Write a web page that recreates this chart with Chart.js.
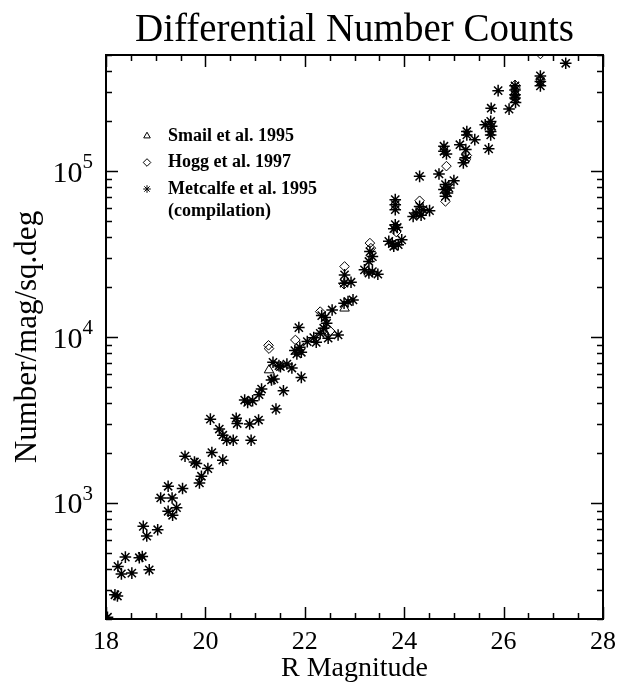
<!DOCTYPE html>
<html>
<head>
<meta charset="utf-8">
<title>Differential Number Counts</title>
<script src="https://cdn.jsdelivr.net/npm/chart.js@4.4.1/dist/chart.umd.min.js"></script>
<style>
  html, body { margin: 0; padding: 0; background: #fff; }
  #wrap { width: 637px; height: 690px; }
</style>
</head>
<body>
<div id="wrap"><canvas id="chart" width="637" height="690"></canvas></div>
<script>
// Values: R magnitude and counts per mag per sq. deg.
const smailMag = [21.28, 22.40, 22.80, 26.23, 26.23];
const smailN   = [6320, 10700, 14890, 294000, 281000];

const hoggMag = [21.27, 21.28, 21.81, 22.31, 22.51, 22.80, 22.79, 23.31, 23.33, 23.84,
                 24.31, 24.85, 24.83, 25.26, 25.24, 26.23, 26.24, 26.74, 26.74];
const hoggN   = [8910, 8510, 9600, 14220, 10860, 26600, 20800, 36800, 34300, 42900,
                 66200, 107000, 65600, 124000, 117000, 330000, 316000, 507000, 357000];

const metcalfeMag = [
  18.03, 18.18, 18.23, 18.24, 18.31, 18.39, 18.52, 18.67, 18.73, 18.75,
  18.82, 18.87, 19.04, 19.10, 19.25, 19.25, 19.33, 19.34, 19.42, 19.54,
  19.59, 19.78, 19.82, 19.88, 19.92, 20.05, 20.13, 20.35,
  20.10, 20.28, 20.35, 20.43, 20.56, 20.62, 20.64, 20.79, 20.85, 20.89,
  20.92, 20.95, 21.07, 21.08, 21.13, 21.33, 21.38, 21.36, 21.42, 21.48,
  21.51, 21.57, 21.64, 21.74, 21.93, 21.80, 21.90, 21.84, 21.93, 22.23,
  21.88, 22.05, 22.18, 22.31, 22.38, 22.44, 22.47, 22.67, 22.55, 22.34,
  22.41, 22.79, 22.87, 22.97, 22.80, 22.93, 22.79, 23.31, 23.36, 23.29,
  23.20, 23.29, 23.36, 23.47, 23.69, 23.79, 23.88, 23.95, 23.76,
  23.82, 23.86, 23.79, 23.82, 23.82, 23.82, 24.31, 24.31, 24.38, 24.51,
  24.24, 24.18, 24.34, 24.70, 24.85, 25.00, 24.83, 24.90, 24.80, 24.87,
  24.83, 24.80, 24.80,
  25.12, 25.24, 25.23, 25.19, 25.26, 25.26, 25.42, 25.63, 25.74, 25.76,
  25.74, 25.74, 25.70, 25.75, 25.89, 26.11, 26.23, 26.23, 26.23, 26.23,
  26.24, 26.74, 26.74, 26.74, 27.25
];
const metcalfeN = [
  205, 280, 275, 415, 374, 472, 378, 468, 476, 723,
  632, 396, 690, 1072, 1261, 891, 1072, 843, 937, 1222,
  1914, 1766, 1727, 1321, 1449, 1611, 2014, 1811,
  3200, 2790, 2560, 2390, 2390, 3240, 3010, 4170, 4040, 2990,
  2390, 4130, 3160, 4490, 4860, 5510, 5590, 7040, 3680, 6720,
  6620, 4740, 6870, 6500, 5710, 8280, 8670, 7910, 8090, 9290,
  11400, 9380, 9910, 10520, 11290, 12100, 9830, 10290, 14550, 13460,
  13090, 15960, 16330, 16730, 23670, 21380, 21080, 32700, 30500, 28500,
  25400, 24300, 24800, 23900, 37700, 35200, 36000, 38500, 36500,
  47500, 45700, 44900, 67200, 62700, 58500, 92900, 61200, 58500, 57700,
  55800, 53300, 54100, 96000, 126800, 87500, 82800, 79100, 77300, 73800,
  70500, 141000, 131500,
  144000, 134600, 120000, 112000, 173000, 165000, 154500, 190000, 199000, 186000,
  173000, 165000, 136000, 239000, 305000, 236000, 326000, 308000, 288000, 275000,
  259000, 374000, 346000, 326000, 445700
];

const xTicks = [18, 20, 22, 24, 26, 28];
const yTicks = [1e3, 1e4, 1e5];
const yTickExp = ['3', '4', '5'];

const FONT = "'Liberation Serif', 'DejaVu Serif', serif";

function toPoints(xs, ys) {
  return xs.map((x, i) => ({ x: x, y: ys[i] }));
}

// Inward tick marks on all four sides, the box frame and the 10^n labels.
const frameTicks = {
  id: 'frameTicks',
  afterDatasetsDraw(chart) {
    const { ctx, chartArea: a, scales: { x, y } } = chart;
    ctx.save();
    ctx.strokeStyle = '#000';
    ctx.lineWidth = 1.5;
    ctx.beginPath();
    for (let v = x.min; v <= x.max + 1e-9; v += 0.5) {
      const px = Math.round(x.getPixelForValue(v)) + 0.5;
      const len = xTicks.includes(Math.round(v * 10) / 10) ? 12 : 6;
      ctx.moveTo(px, a.bottom); ctx.lineTo(px, a.bottom - len);
      ctx.moveTo(px, a.top); ctx.lineTo(px, a.top + len);
    }
    for (let d = 100; d <= 1e6; d *= 10) {
      for (let k = 1; k <= 9; k++) {
        const v = k * d;
        if (v < y.min || v > y.max) continue;
        const py = Math.round(y.getPixelForValue(v)) + 0.5;
        const len = k === 1 ? 12 : 6;
        ctx.moveTo(a.left, py); ctx.lineTo(a.left + len, py);
        ctx.moveTo(a.right, py); ctx.lineTo(a.right - len, py);
      }
    }
    ctx.stroke();
    ctx.lineWidth = 2;
    ctx.strokeRect(a.left, a.top, a.right - a.left, a.bottom - a.top);

    // y labels as 10 with a raised exponent
    ctx.fillStyle = '#000';
    ctx.textBaseline = 'alphabetic';
    ctx.textAlign = 'left';
    yTicks.forEach((v, i) => {
      const py = y.getPixelForValue(v);
      ctx.font = '21px ' + FONT;
      const ew = ctx.measureText(yTickExp[i]).width;
      ctx.font = '30px ' + FONT;
      const bw = ctx.measureText('10').width;
      const right = a.left - 13;
      ctx.fillText('10', right - ew - bw, py + 10.5);
      ctx.font = '21px ' + FONT;
      ctx.fillText(yTickExp[i], right - ew, py - 3);
    });
    ctx.restore();
  }
};

// Legend drawn inside the plot box, top left.
const insideLegend = {
  id: 'insideLegend',
  afterDraw(chart) {
    const { ctx, chartArea: a } = chart;
    const rows = [
      { style: 'triangle', text: ['Smail et al. 1995'] },
      { style: 'rectRot', text: ['Hogg et al. 1997'] },
      { style: 'star', text: ['Metcalfe et al. 1995', '(compilation)'] }
    ];
    const sx = a.left + 41, tx = a.left + 62;
    let yy = a.top + 81;
    ctx.save();
    ctx.strokeStyle = '#000';
    ctx.font = 'bold 18px ' + FONT;
    ctx.textBaseline = 'middle';
    rows.forEach(r => {
      ctx.fillStyle = 'rgba(0,0,0,0)';
      Chart.helpers.drawPoint(ctx, {
        pointStyle: r.style, radius: 3.8, rotation: 0, borderWidth: 1
      }, sx, yy);
      ctx.fillStyle = '#000';
      r.text.forEach((t, i) => ctx.fillText(t, tx, yy + i * 22));
      yy += 26.5;
    });
    ctx.restore();
  }
};

const common = { showLine: false, borderColor: '#000', backgroundColor: 'rgba(0,0,0,0)' };

new Chart(document.getElementById('chart'), {
  type: 'scatter',
  data: {
    datasets: [
      { ...common, label: 'Smail et al. 1995', data: toPoints(smailMag, smailN),
        pointStyle: 'triangle', pointRadius: 5.5, pointBorderWidth: 1 },
      { ...common, label: 'Hogg et al. 1997', data: toPoints(hoggMag, hoggN),
        pointStyle: 'rectRot', pointRadius: 4.8, pointBorderWidth: 1 },
      { ...common, label: 'Metcalfe et al. 1995 (compilation)', data: toPoints(metcalfeMag, metcalfeN),
        pointStyle: 'star', pointRadius: 5.8, pointBorderWidth: 1.5 }
    ]
  },
  options: {
    responsive: false,
    animation: false,
    layout: { padding: { left: 0, right: 34, top: 0, bottom: 0 } },
    plugins: {
      legend: { display: false },
      tooltip: { enabled: false },
      title: {
        display: true,
        fullSize: false,
        text: 'Differential Number Counts',
        color: '#000',
        font: { family: FONT, size: 39, weight: 'normal' },
        padding: { top: 7.6, bottom: 0.6 }
      }
    },
    scales: {
      x: {
        type: 'linear',
        min: 18, max: 28,
        afterFit: s => { s.height = 71; },
        afterBuildTicks: s => { s.ticks = xTicks.map(v => ({ value: v })); },
        grid: { display: false, drawTicks: false },
        border: { display: false },
        ticks: {
          color: '#000', padding: 8, autoSkip: false, maxRotation: 0,
          font: { family: FONT, size: 26 },
          callback: v => String(v)
        },
        title: {
          display: true, text: 'R Magnitude', color: '#000',
          font: { family: FONT, size: 28 },
          padding: { top: 0, bottom: 5 }
        }
      },
      y: {
        type: 'logarithmic',
        min: 200, max: 5e5,
        afterFit: s => { s.width = 106; },
        afterBuildTicks: s => { s.ticks = yTicks.map(v => ({ value: v })); },
        grid: { display: false, drawTicks: false },
        border: { display: false },
        ticks: { display: false },
        title: {
          display: true, text: 'Number/mag/sq.deg', color: '#000',
          font: { family: FONT, size: 31 },
          padding: { top: 9, bottom: 0 }
        }
      }
    }
  },
  plugins: [frameTicks, insideLegend]
});
</script>
</body>
</html>
